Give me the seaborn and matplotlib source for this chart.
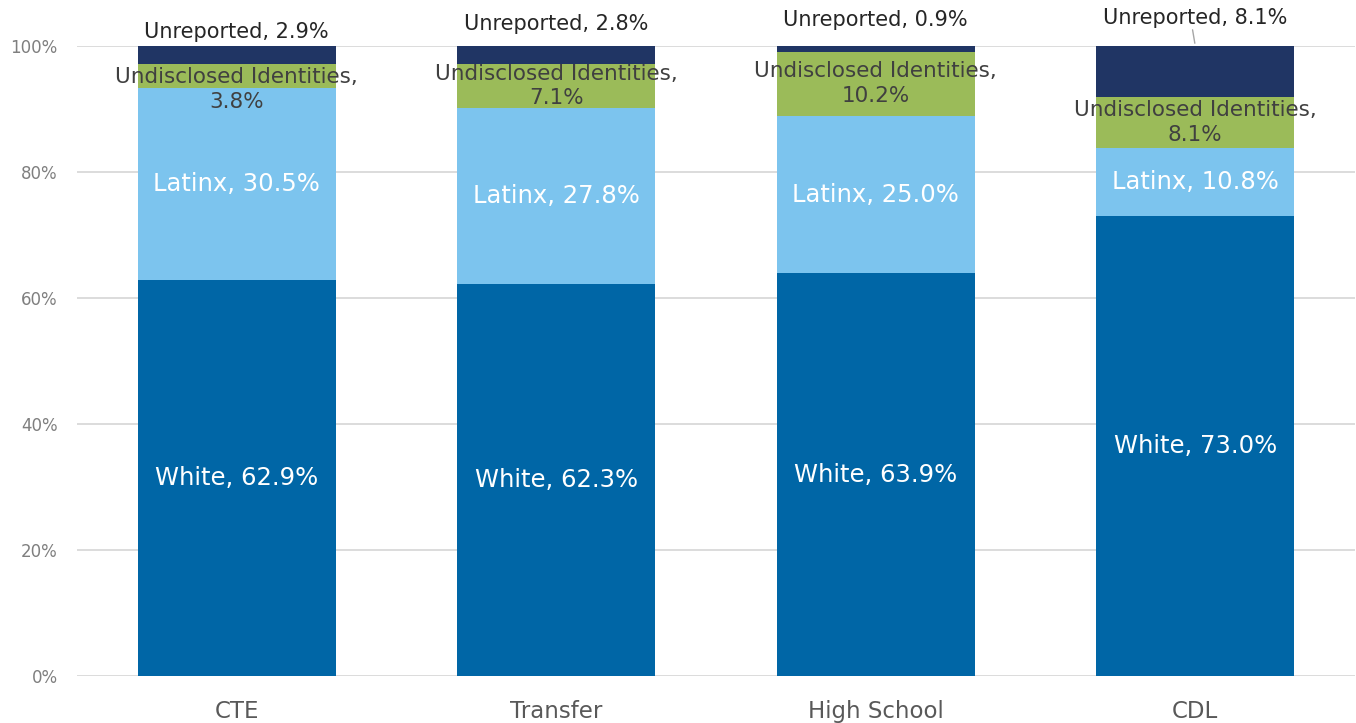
import numpy as np
import pandas as pd
import matplotlib
matplotlib.use('Agg')
import matplotlib.pyplot as plt
import seaborn as sns

categories = ['CTE', 'Transfer', 'High School', 'CDL']
white = [62.9, 62.3, 63.9, 73.0]
latinx = [30.5, 27.8, 25.0, 10.8]
undisclosed = [3.8, 7.1, 10.2, 8.1]
unreported = [2.9, 2.8, 0.9, 8.1]

series_names = ['White', 'Latinx', 'Undisclosed Identities', 'Unreported']
colors = ['#0066a6', '#7cc4ee', '#9bbb59', '#203564']

# where the "Unreported" labels sit above the bars (data units)
unrep_label_y = [102.2, 103.5, 104.1, 104.5]
# nudge for the undisclosed labels (CTE one is pushed down in the original)
undis_nudge = [-2.2, 0, 0, 0]

sns.set_style('white')
plt.rcParams['font.family'] = ['DejaVu Sans']

fig = plt.figure(figsize=(13.56, 7.23), dpi=100)
ax = fig.add_axes([0.0568, 0.065, 0.9425, 0.8714])

df = pd.DataFrame({'cat': categories, 'White': white, 'Latinx': latinx,
                   'Undisclosed Identities': undisclosed, 'Unreported': unreported})

# stack by drawing cumulative totals, biggest first
cum = df[series_names].cumsum(axis=1)
for name, col in reversed(list(zip(series_names, colors))):
    sns.barplot(x=df['cat'], y=cum[name], color=col, width=0.62,
                saturation=1, linewidth=0, edgecolor=col, ax=ax, zorder=3)

ax.set_ylim(0, 100)
ax.set_xlim(-0.5, 3.5)
ax.set_yticks(np.arange(0, 101, 20))
ax.set_yticklabels([f'{v}%' for v in range(0, 101, 20)], color='#7f7f7f', fontsize=12)
ax.tick_params(axis='x', labelsize=16.5, colors='#595959', length=0, pad=17)
ax.tick_params(axis='y', length=0, pad=14)
ax.yaxis.grid(True, color='#d9d9d9', linewidth=1.3, zorder=0)
ax.set_axisbelow(True)
ax.set_xlabel('')
ax.set_ylabel('')
for s in ax.spines.values():
    s.set_visible(False)

for i in range(len(categories)):
    ax.text(i, white[i] / 2, f'White, {white[i]:.1f}%', ha='center', va='center',
            color='white', fontsize=17.5, zorder=5)
    b1 = white[i]
    ax.text(i, b1 + latinx[i] / 2, f'Latinx, {latinx[i]:.1f}%', ha='center', va='center',
            color='white', fontsize=17.5, zorder=5)
    b2 = b1 + latinx[i]
    ax.text(i, b2 + undisclosed[i] / 2 + undis_nudge[i],
            f'Undisclosed Identities,\n{undisclosed[i]:.1f}%',
            ha='center', va='center', color='#404040', fontsize=15.5,
            linespacing=1.3, zorder=5)
    ax.text(i, unrep_label_y[i], f'Unreported, {unreported[i]:.1f}%', ha='center',
            va='center', color='#262626', fontsize=15, zorder=5, clip_on=False)

# leader line for the CDL unreported label
ax.annotate('', xy=(3, 100), xytext=(2.99, 103.0),
            arrowprops=dict(arrowstyle='-', color='#a6a6a6', lw=1),
            annotation_clip=False)

fig.savefig('out.png', dpi=100)
